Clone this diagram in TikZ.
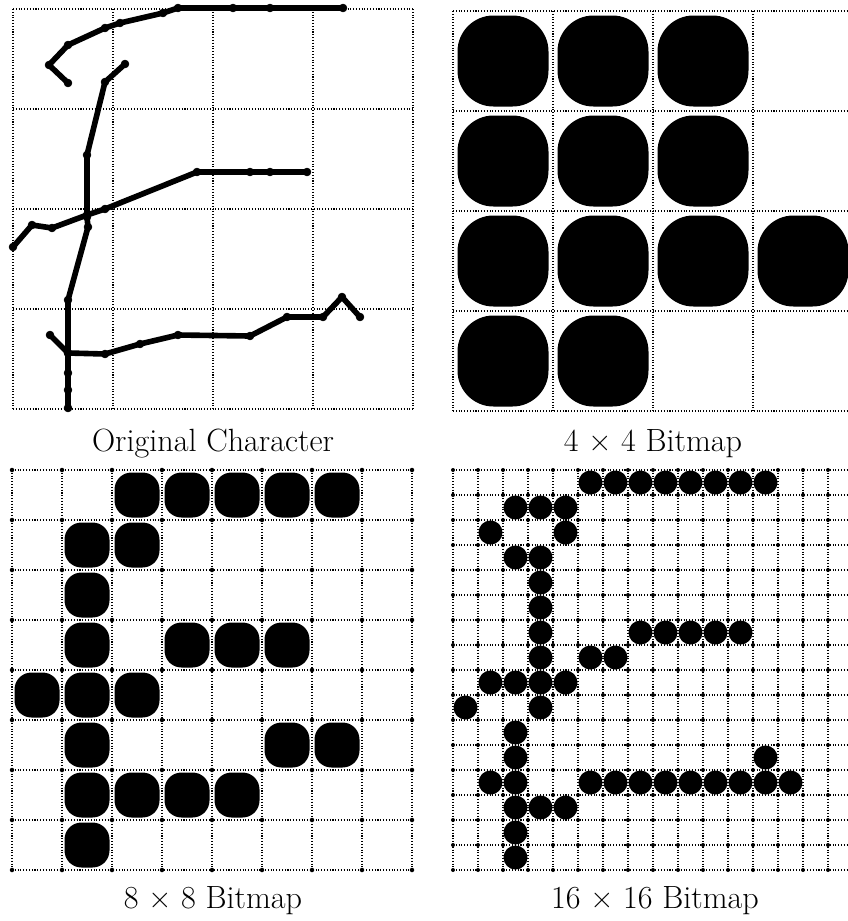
\documentclass[tikz,border=0pt]{standalone}
\usetikzlibrary{positioning}

\begin{document}
\begin{tikzpicture}[
  x=0.02cm, y=-0.02cm,
  gridline/.style={densely dotted, line width=0.6pt, draw=black},
  crossdot/.style={fill=black},
  pen/.style={line width=3.2pt, line cap=round, line join=round},
  blobbig/.style={fill=black, rounded corners=0.72cm},
  blobmid/.style={fill=black, rounded corners=0.34cm},
  caption/.style={anchor=base, inner sep=0pt, font=\fontsize{18.3}{22}\selectfont}
]
\clip (0,0) rectangle (848,921);

% original character
\foreach \i in {0,...,4} {
  \draw[gridline] ({13+100*\i},9) -- ({13+100*\i},409);
  \draw[gridline] (13,{9+100*\i}) -- (413,{9+100*\i});
}
\draw[pen] plot[mark=*, mark size=2.2pt, mark options={line width=0.4pt}] coordinates {
  (68,83) (49,65) (68,45) (105,28) (120,23) (163,13) (178,8) (233,8) (270,8) (343,8)};
\draw[pen] plot[mark=*, mark size=2.2pt, mark options={line width=0.4pt}] coordinates {
  (125,64) (105,82) (87,155) (87,217) (88,227) (68,300) (68,353) (68,373) (68,390) (68,408)};
\draw[pen] plot[mark=*, mark size=2.2pt, mark options={line width=0.4pt}] coordinates {
  (13,247) (32,225) (52,228) (87,215) (105,209) (197,172) (250,172) (270,172) (307,172)};
\draw[pen] plot[mark=*, mark size=2.2pt, mark options={line width=0.4pt}] coordinates {
  (50,335) (68,353) (105,354) (140,344) (178,335) (250,336) (287,317) (323,317) (342,297) (360,317)};

% 4 x 4
\foreach \i in {0,...,4} {
  \draw[gridline] ({453+100*\i},11) -- ({453+100*\i},411);
  \draw[gridline] (453,{11+100*\i}) -- (853,{11+100*\i});
}
\foreach \c/\r in {0/0,1/0,2/0, 0/1,1/1,2/1, 0/2,1/2,2/2,3/2, 0/3,1/3}
  \fill[blobbig] ({453+100*\c+4.5},{11+100*\r+4.5}) rectangle ++(91,91);

% 8 x 8
\foreach \i in {0,...,8} {
  \draw[gridline] ({12+50*\i},470) -- ({12+50*\i},870);
  \draw[gridline] (12,{470+50*\i}) -- (412,{470+50*\i});
}
\foreach \i in {0,...,8}
  \foreach \j in {0,...,8}
    \fill[crossdot] ({12+50*\i},{470+50*\j}) circle (0.045cm);
\foreach \c/\r in {2/0,3/0,4/0,5/0,6/0, 1/1,2/1, 1/2, 1/3,3/3,4/3,5/3,
                   0/4,1/4,2/4, 1/5,5/5,6/5, 1/6,2/6,3/6,4/6, 1/7}
  \fill[blobmid] ({12+50*\c+2.5},{470+50*\r+2.5}) rectangle ++(45,45);

% 16 x 16
\foreach \i in {0,...,16} {
  \draw[gridline] ({453+25*\i},470) -- ({453+25*\i},870);
  \draw[gridline] (453,{470+25*\i}) -- (853,{470+25*\i});
}
\foreach \i in {0,...,16}
  \foreach \j in {0,...,16}
    \fill[crossdot] ({453+25*\i},{470+25*\j}) circle (0.04cm);
\foreach \c/\r in {5/0,6/0,7/0,8/0,9/0,10/0,11/0,12/0,
                   2/1,3/1,4/1, 1/2,4/2, 2/3,3/3, 3/4, 3/5,
                   3/6,7/6,8/6,9/6,10/6,11/6, 3/7,5/7,6/7,
                   1/8,2/8,3/8,4/8, 0/9,3/9, 2/10, 2/11,12/11,
                   1/12,2/12,5/12,6/12,7/12,8/12,9/12,10/12,11/12,12/12,13/12,
                   2/13,3/13,4/13, 2/14, 2/15}
  \fill ({453+25*\c+12.5},{470+25*\r+12.5}) circle (0.24cm);

% captions
\node[caption] (origcap) at (213,451) {Original Character};
\node[caption] (fourcap) at (653,451) {4 × 4 Bitmap};
\node[caption] (eightcap) at (213,908) {8 × 8 Bitmap};
\node[caption] (sixteencap) at (655,908) {16 × 16 Bitmap};

\end{tikzpicture}
\end{document}
